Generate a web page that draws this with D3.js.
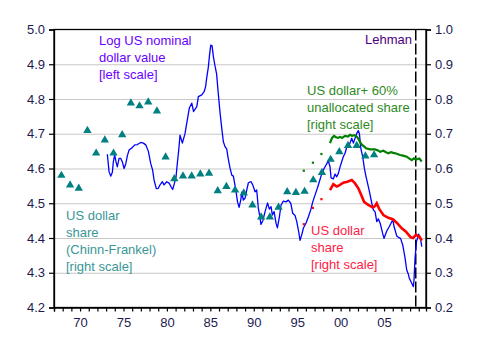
<!DOCTYPE html>
<html><head><meta charset="utf-8">
<script src="https://cdn.jsdelivr.net/npm/d3@7"></script>
<style>
body{margin:0;background:#fff}
svg{display:block}
text{font-family:"Liberation Sans",Arial,sans-serif}
</style>
</head><body><svg id="c" width="480" height="355"></svg>
<script>
// ---- data ----
const leftTicks = [4.2,4.3,4.4,4.5,4.6,4.7,4.8,4.9,5.0];
const rightTicks = [0.2,0.3,0.4,0.5,0.6,0.7,0.8,0.9,1.0];
const xTickYears = [1970,1975,1980,1985,1990,1995,2000,2005];
const xTickLabels = ["70","75","80","85","90","95","00","05"];
const lehmanDate = 2008.65;

// Log US nominal dollar value (left scale)
const dollarDates = [1973.14,1973.34,1973.53,1973.72,1973.83,1973.99,1974.14,1974.29,1974.49,1974.69,1974.87,1975.07,1975.26,1975.45,1975.64,1975.95,1976.30,1976.60,1976.99,1977.29,1977.56,1977.86,1978.14,1978.35,1978.52,1978.78,1979.01,1979.21,1979.48,1979.67,1979.98,1980.25,1980.51,1980.67,1980.86,1981.05,1981.20,1981.36,1981.51,1981.78,1982.09,1982.28,1982.58,1982.86,1983.07,1983.44,1983.62,1984.01,1984.28,1984.45,1984.59,1984.77,1984.91,1985.05,1985.20,1985.35,1985.54,1985.72,1985.92,1986.12,1986.31,1986.50,1986.69,1986.89,1987.07,1987.27,1987.47,1987.65,1987.85,1987.98,1988.13,1988.31,1988.50,1988.62,1988.80,1989.00,1989.19,1989.38,1989.69,1989.88,1990.15,1990.34,1990.53,1990.73,1990.82,1991.03,1991.30,1991.59,1991.79,1991.99,1992.14,1992.34,1992.57,1992.72,1992.95,1993.14,1993.41,1993.72,1993.98,1994.26,1994.49,1994.75,1994.95,1995.16,1995.33,1995.52,1995.71,1996.02,1996.29,1996.56,1996.79,1997.06,1997.32,1997.55,1997.78,1998.01,1998.21,1998.59,1998.78,1998.90,1999.16,1999.36,1999.55,1999.74,1999.93,2000.13,2000.31,2000.51,2000.71,2000.89,2001.08,2001.28,2001.47,2001.66,2001.86,2002.04,2002.16,2002.32,2002.55,2002.73,2002.93,2003.19,2003.33,2003.59,2003.77,2003.97,2004.16,2004.35,2004.58,2004.83,2005.00,2005.31,2005.61,2005.89,2006.00,2006.15,2006.27,2006.46,2006.65,2006.90,2007.15,2007.42,2007.61,2007.80,2007.91,2008.19,2008.38,2008.45,2008.57,2008.65,2008.74,2008.86,2008.97,2009.09,2009.22,2009.35];
const dollarLog = [4.641,4.591,4.578,4.589,4.619,4.639,4.619,4.605,4.629,4.629,4.619,4.600,4.613,4.637,4.653,4.659,4.668,4.669,4.675,4.673,4.668,4.650,4.614,4.596,4.567,4.542,4.543,4.553,4.562,4.553,4.562,4.558,4.546,4.540,4.557,4.576,4.615,4.653,4.696,4.673,4.701,4.730,4.774,4.788,4.764,4.778,4.807,4.812,4.821,4.835,4.862,4.892,4.927,4.955,4.953,4.922,4.895,4.872,4.814,4.760,4.717,4.677,4.663,4.656,4.627,4.601,4.581,4.578,4.550,4.530,4.504,4.488,4.509,4.532,4.509,4.515,4.538,4.559,4.562,4.553,4.533,4.538,4.485,4.457,4.439,4.449,4.476,4.501,4.483,4.490,4.466,4.476,4.442,4.429,4.461,4.495,4.506,4.504,4.509,4.500,4.471,4.465,4.447,4.420,4.393,4.409,4.428,4.443,4.461,4.481,4.504,4.524,4.543,4.562,4.581,4.596,4.605,4.622,4.605,4.573,4.570,4.584,4.576,4.586,4.604,4.620,4.634,4.644,4.662,4.663,4.673,4.687,4.673,4.687,4.701,4.709,4.701,4.659,4.633,4.601,4.576,4.548,4.532,4.500,4.481,4.475,4.447,4.455,4.440,4.414,4.399,4.420,4.433,4.447,4.454,4.433,4.423,4.406,4.402,4.399,4.380,4.342,4.308,4.296,4.284,4.270,4.260,4.279,4.342,4.365,4.391,4.399,4.411,4.406,4.394,4.375];

// US dollar share, Chinn-Frankel (right scale)
const cfDates = [1967.85,1968.85,1969.85,1970.85,1971.85,1972.85,1973.85,1974.85,1975.85,1976.85,1977.85,1978.85,1979.85,1980.85,1981.85,1982.85,1983.85,1984.85,1985.85,1986.85,1987.85,1988.85,1989.85,1990.85,1991.85,1992.85,1993.85,1994.85,1995.85,1996.85,1997.85,1998.85,1999.85,2000.85,2001.85,2002.85,2003.85];
const cfShare = [0.580,0.552,0.543,0.709,0.644,0.682,0.644,0.697,0.788,0.780,0.791,0.765,0.633,0.570,0.578,0.578,0.584,0.586,0.536,0.548,0.538,0.529,0.495,0.460,0.460,0.488,0.533,0.531,0.534,0.567,0.588,0.626,0.648,0.666,0.666,0.636,0.639];

// US dollar + 60% unallocated share (right scale)
const unallocDotDates = [1995.75,1996.80,1997.78];
const unallocDotShare = [0.594,0.617,0.642];
const unallocDates = [1998.78,1999.01,1999.24,1999.47,1999.70,1999.93,2000.16,2000.51,2000.86,2001.08,2001.32,2001.55,2001.86,2002.06,2002.24,2002.47,2002.62,2002.93,2003.39,2003.96,2004.31,2004.54,2004.92,2005.23,2005.49,2005.81,2006.07,2006.38,2006.84,2007.19,2007.61,2007.88,2008.19,2008.45,2008.68,2009.06,2009.34];
const unallocShare = [0.673,0.688,0.694,0.690,0.688,0.691,0.688,0.694,0.692,0.697,0.694,0.696,0.692,0.685,0.676,0.668,0.665,0.658,0.655,0.655,0.652,0.648,0.651,0.647,0.644,0.647,0.645,0.643,0.639,0.637,0.634,0.629,0.624,0.629,0.626,0.629,0.620];

// US dollar share (right scale)
const shareDotDates = [1995.75,1996.79,1997.78];
const shareDotValues = [0.440,0.487,0.512];
const shareDates = [1998.78,1999.16,1999.55,1999.93,2000.31,2000.77,2001.28,2001.66,2002.04,2002.35,2002.70,2003.19,2003.70,2003.96,2004.16,2004.46,2004.92,2005.49,2006.00,2006.46,2007.04,2007.53,2008.07,2008.34,2008.68,2009.06,2009.34];
const shareValues = [0.538,0.555,0.548,0.553,0.559,0.562,0.567,0.557,0.543,0.525,0.504,0.495,0.488,0.492,0.500,0.483,0.466,0.458,0.454,0.444,0.428,0.418,0.402,0.400,0.409,0.404,0.393];

// ---- drawing ----
const svg = d3.select("#c");
const L = 54, R = 426, T = 29.5, B = 307.5;
const x = d3.scaleLinear().domain([1967, 2009.83]).range([L, R]);
const yL = d3.scaleLinear().domain([4.2, 5.0]).range([B, T]);
const yR = d3.scaleLinear().domain([0.2, 1.0]).range([B, T]);
const tickColor = "#1c1a52";

// gridlines
svg.append("g").attr("transform", `translate(${L},0)`)
  .call(d3.axisLeft(yL).tickValues(leftTicks.slice(1, -1)).tickSize(-(R - L)).tickFormat(""))
  .call(g => g.select(".domain").remove())
  .call(g => g.selectAll("line").attr("stroke", "#c8c8c8").attr("stroke-width", 1.2));

// Lehman line
svg.append("line")
  .attr("x1", x(lehmanDate)).attr("x2", x(lehmanDate))
  .attr("y1", T).attr("y2", B)
  .attr("stroke", "#000").attr("stroke-width", 1.5).attr("stroke-dasharray", "11,3");

// series
const lineOf = (dates, vals, ys) => d3.line().x((d, i) => x(dates[i])).y((d, i) => ys(vals[i]))(vals);

svg.append("path").attr("d", lineOf(dollarDates, dollarLog, yL))
  .attr("fill", "none").attr("stroke", "#0000ff").attr("stroke-width", 1.3).attr("stroke-linejoin", "round");

svg.append("path").attr("d", lineOf(unallocDates, unallocShare, yR))
  .attr("fill", "none").attr("stroke", "#008000").attr("stroke-width", 2.2);
svg.append("g").selectAll("rect").data(unallocShare.map((v, i) => [unallocDotDates[i], v]).slice(0, 0)).enter();
svg.append("g").selectAll("rect").data(unallocDotShare).enter().append("rect")
  .attr("x", (d, i) => x(unallocDotDates[i]) - 1).attr("y", d => yR(d) - 1)
  .attr("width", 2.2).attr("height", 2.2).attr("fill", "#008000");

svg.append("path").attr("d", lineOf(shareDates, shareValues, yR))
  .attr("fill", "none").attr("stroke", "#ff0000").attr("stroke-width", 2.6);
svg.append("g").selectAll("rect").data(shareDotValues).enter().append("rect")
  .attr("x", (d, i) => x(shareDotDates[i]) - 1).attr("y", d => yR(d) - 1)
  .attr("width", 2.2).attr("height", 2.2).attr("fill", "#ff0000");

svg.append("g").selectAll("path").data(cfShare).enter().append("path")
  .attr("d", d3.symbol().type(d3.symbolTriangle).size(30))
  .attr("transform", (d, i) => `translate(${x(cfDates[i])},${yR(d)})`)
  .attr("fill", "#008080");

// frame
svg.append("rect").attr("x", L).attr("y", T).attr("width", R - L).attr("height", B - T)
  .attr("fill", "none").attr("stroke", "#000").attr("stroke-width", 1.3);

// axes
const styleAxis = g => {
  g.select(".domain").attr("stroke", "#000").attr("stroke-width", 1.3);
  g.selectAll(".tick line").attr("stroke", "#000").attr("stroke-width", 1.2);
  g.selectAll("text").attr("fill", tickColor).attr("font-size", 13)
    .attr("font-family", '"Liberation Sans",Arial,sans-serif');
};
svg.append("g").attr("transform", `translate(${L},0)`)
  .call(d3.axisLeft(yL).tickValues(leftTicks).tickFormat(d3.format(".1f")).tickSize(5).tickPadding(4))
  .call(styleAxis);
svg.append("g").attr("transform", `translate(${R},0)`)
  .call(d3.axisRight(yR).tickValues(rightTicks).tickFormat(d3.format(".1f")).tickSize(5).tickPadding(4))
  .call(styleAxis);
svg.append("g").attr("transform", `translate(0,${B})`)
  .call(d3.axisBottom(x).tickValues(d3.range(1967, 2010)).tickSize(4).tickPadding(6)
    .tickFormat(d => { const k = xTickYears.indexOf(d); return k >= 0 ? xTickLabels[k] : ""; }))
  .call(styleAxis);

// annotations
const note = (lines, px, py, color, anchor) => {
  const t = svg.append("text").attr("fill", color).attr("font-size", 13)
    .attr("text-anchor", anchor || "start");
  lines.forEach((s, i) => t.append("tspan").attr("x", px).attr("y", py + i * 17).text(s));
};
note(["Log US nominal", "dollar value", "[left scale]"], 99, 45, "#6a00ff");
note(["US dollar+ 60%", "unallocated share", "[right scale]"], 307, 95, "#2d8a1e");
note(["US dollar", "share", "(Chinn-Frankel)", "[right scale]"], 66, 220, "#3a9696");
note(["US dollar", "share", "[right scale]"], 311, 235, "#ff2244");
note(["Lehman"], 412, 44, "#4b0082", "end");
</script></body></html>
